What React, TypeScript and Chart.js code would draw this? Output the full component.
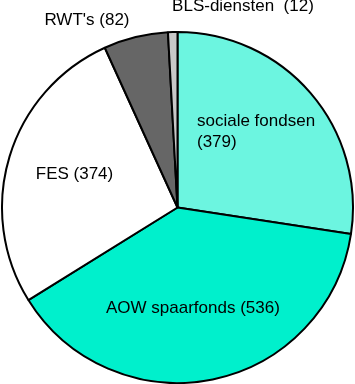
import React, { useEffect, useRef } from "react";
import { Chart, registerables } from "chart.js";

Chart.register(...registerables);

const categories = ["sociale fondsen", "AOW spaarfonds", "FES", "RWT's", "BLS-diensten"];
const values = [379, 536, 374, 82, 12];
const labelTexts = [["sociale fondsen", "(379)"], ["AOW spaarfonds (536)"], ["FES (374)"], ["RWT's (82)"], ["BLS-diensten  (12)"]];
const colors = ["#6cf5e0", "#00f0cc", "#ffffff", "#666666", "#c8c8c8"];

// label anchor positions relative to pie centre, in units of the radius
const labelPos: [number, number, CanvasTextAlign][] = [
  [0.111, -0.43, "left"],
  [0.088, 0.573, "center"],
  [-0.587, -0.191, "center"],
  [-0.516, -1.068, "center"],
  [0.373, -1.145, "center"],
];

const labelPlugin = {
  id: "pieLabels",
  afterDraw(chart: any) {
    const ctx = chart.ctx;
    const meta = chart.getDatasetMeta(0);
    const arc0 = meta.data[0];
    if (!arc0) return;
    const cx = arc0.x, cy = arc0.y, R = arc0.outerRadius;
    ctx.save();
    ctx.fillStyle = "#000";
    ctx.font = "17px 'Liberation Sans', Arial, sans-serif";
    ctx.textBaseline = "middle";
    labelTexts.forEach((lines, i) => {
      const [fx, fy, align] = labelPos[i];
      ctx.textAlign = align;
      const x = cx + fx * R;
      const lh = 21;
      const y0 = cy + fy * R - ((lines.length - 1) * lh) / 2;
      lines.forEach((t, j) => ctx.fillText(t, x, y0 + j * lh));
    });
    ctx.restore();
  },
};

export default function App() {
  const ref = useRef<HTMLCanvasElement>(null);
  useEffect(() => {
    document.body.style.margin = "0";
    const chart = new Chart(ref.current!, {
      type: "pie",
      data: {
        labels: categories,
        datasets: [
          {
            data: values,
            backgroundColor: colors,
            borderColor: "#000",
            borderWidth: 2,
          },
        ],
      },
      options: {
        responsive: false,
        animation: false,
        layout: { padding: { left: 1, right: 1, top: 31, bottom: 0 } },
        plugins: { legend: { display: false }, tooltip: { enabled: false } },
      },
      plugins: [labelPlugin],
    });
    return () => chart.destroy();
  }, []);
  return (
    <div style={{ width: 355, height: 384, background: "#fff" }}>
      <canvas ref={ref} width={355} height={384} style={{ display: "block" }} />
    </div>
  );
}
